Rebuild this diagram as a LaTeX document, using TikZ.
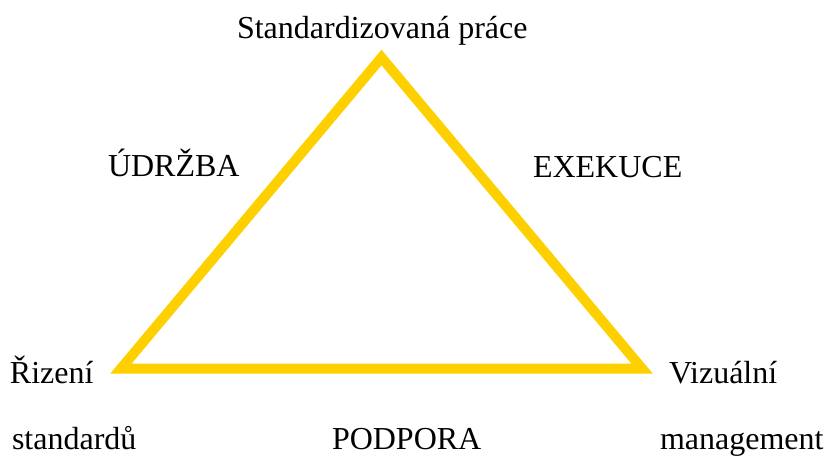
\documentclass[tikz,border=0pt]{standalone}
\usepackage{fontspec}
\setmainfont{Liberation Serif}
\definecolor{tri}{RGB}{255,208,0}
\begin{document}
\begin{tikzpicture}[x=0.5pt,y=-0.5pt,
  lbl/.style={anchor=base west,inner sep=0pt,outer sep=0pt,font=\fontsize{16}{19}\selectfont}]
\useasboundingbox (0,0) rectangle (827,456);
\coordinate (A) at (381.5,57.5);
\coordinate (B) at (121,368.5);
\coordinate (C) at (642,368.5);
\draw[tri,line width=5pt,miter limit=10] (A) -- (B) -- (C) -- cycle;
\node[lbl] (top) at (237,38) {Standardizovaná práce};
\node[lbl] (udr) at (108,176) {ÚDRŽBA};
\node[lbl] (exe) at (533,177) {EXEKUCE};
\node[lbl] (riz) at (10,383) {Řizení};
\node[lbl] (viz) at (669,383) {Vizuální};
\node[lbl] (std) at (12,449) {standardů};
\node[lbl] (pod) at (332,449) {PODPORA};
\node[lbl] (man) at (660,449) {management};
\end{tikzpicture}
\end{document}
